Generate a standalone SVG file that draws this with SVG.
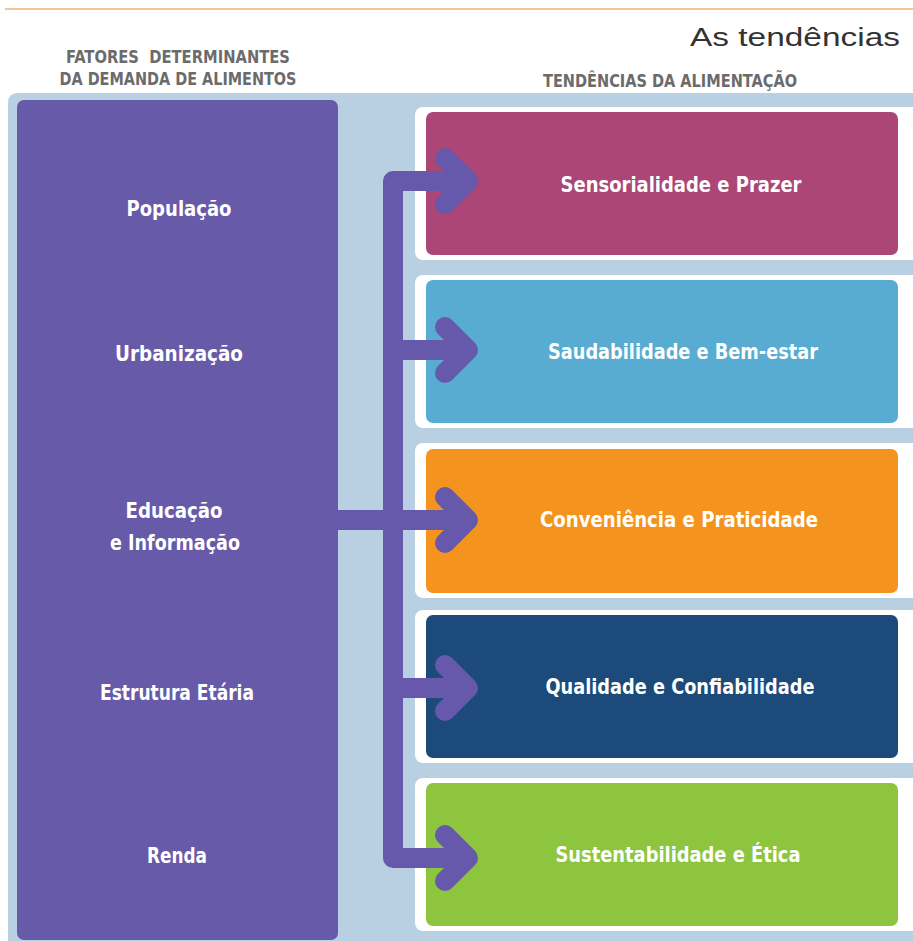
<svg xmlns="http://www.w3.org/2000/svg" width="913" height="941" viewBox="0 0 913 941">
<style>
.hdr{font-family:"DejaVu Sans Condensed","DejaVu Sans",sans-serif;font-weight:bold;font-size:17px;fill:#6b6b6b;text-anchor:middle;white-space:pre}
.lt{font-family:"DejaVu Sans Condensed","DejaVu Sans",sans-serif;font-weight:bold;font-size:22px;fill:#ffffff;text-anchor:middle}
.frame{fill:#ffffff}
.conn{fill:none;stroke:#6659ab;stroke-width:20;stroke-linejoin:round;stroke-linecap:butt}
.head{fill:none;stroke:#6659ab;stroke-width:20;stroke-linejoin:round;stroke-linecap:round}
</style>
<rect x="0" y="0" width="913" height="941" fill="#ffffff"/>
<line x1="5" y1="9" x2="913" y2="9" stroke="#f3c594" stroke-width="2"/>
<text x="900" y="46" font-family="Liberation Sans, sans-serif" font-size="25" fill="#333333" text-anchor="end" textLength="210" lengthAdjust="spacingAndGlyphs">As tendências</text>
<text class="hdr" x="178" y="63" textLength="224" lengthAdjust="spacingAndGlyphs" xml:space="preserve">FATORES  DETERMINANTES</text>
<text class="hdr" x="178" y="85" textLength="237" lengthAdjust="spacingAndGlyphs">DA DEMANDA DE ALIMENTOS</text>
<text class="hdr" x="670" y="87" textLength="254" lengthAdjust="spacingAndGlyphs">TENDÊNCIAS DA ALIMENTAÇÃO</text>
<path d="M8 941 V103 Q8 93 18 93 H913 V941 Z" fill="#b9d0e2"/>

<g id="fatores">
<rect x="17" y="100" width="321" height="840" rx="7" fill="#675aa9"/>
<text class="lt" x="179" y="216" textLength="105" lengthAdjust="spacingAndGlyphs">População</text>
<text class="lt" x="179" y="361" textLength="128" lengthAdjust="spacingAndGlyphs">Urbanização</text>
<text class="lt" x="174" y="518" textLength="97" lengthAdjust="spacingAndGlyphs">Educação</text>
<text class="lt" x="175" y="550" textLength="130" lengthAdjust="spacingAndGlyphs">e Informação</text>
<text class="lt" x="177" y="700" textLength="154" lengthAdjust="spacingAndGlyphs">Estrutura Etária</text>
<text class="lt" x="177" y="863" textLength="60" lengthAdjust="spacingAndGlyphs">Renda</text>
</g>

<g id="sensorialidade">
<rect class="frame" x="415" y="107" width="510" height="153" rx="8"/>
<rect x="426" y="112" width="472" height="143" rx="7" fill="#ab4676"/>
<text class="lt" x="681" y="192" textLength="241" lengthAdjust="spacingAndGlyphs">Sensorialidade e Prazer</text>
</g>
<g id="saudabilidade">
<rect class="frame" x="415" y="275" width="510" height="153" rx="8"/>
<rect x="426" y="280" width="472" height="143" rx="7" fill="#58abd1"/>
<text class="lt" x="683" y="359" textLength="270" lengthAdjust="spacingAndGlyphs">Saudabilidade e Bem-estar</text>
</g>
<g id="conveniencia">
<rect class="frame" x="415" y="443" width="510" height="155" rx="8"/>
<rect x="426" y="449" width="472" height="144" rx="7" fill="#f5931f"/>
<text class="lt" x="679" y="527" textLength="278" lengthAdjust="spacingAndGlyphs">Conveniência e Praticidade</text>
</g>
<g id="qualidade">
<rect class="frame" x="415" y="610" width="510" height="153" rx="8"/>
<rect x="426" y="615" width="472" height="143" rx="7" fill="#1c4a7b"/>
<text class="lt" x="680" y="694" textLength="269" lengthAdjust="spacingAndGlyphs">Qualidade e Confiabilidade</text>
</g>
<g id="sustentabilidade">
<rect class="frame" x="415" y="778" width="510" height="153" rx="8"/>
<rect x="426" y="783" width="472" height="143" rx="7" fill="#8dc53f"/>
<text class="lt" x="678" y="862" textLength="245" lengthAdjust="spacingAndGlyphs">Sustentabilidade e Ética</text>
</g>

<g id="connectors">
<path class="conn" d="M468 181 H393 V858 H468"/>
<path class="conn" d="M393 350 H468"/>
<path class="conn" d="M337 520 H468"/>
<path class="conn" d="M393 688 H468"/>
<polyline class="head" points="445,158 468,181 445,204"/>
<polyline class="head" points="445,327 468,350 445,373"/>
<polyline class="head" points="445,497 468,520 445,543"/>
<polyline class="head" points="445,665 468,688 445,711"/>
<polyline class="head" points="445,835 468,858 445,881"/>
</g>
</svg>
